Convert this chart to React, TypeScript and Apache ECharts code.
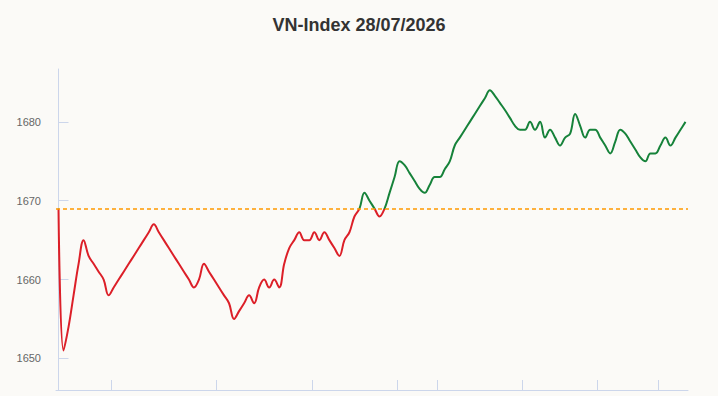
import React, { useEffect, useRef } from "react";
import * as echarts from "echarts";

const titleText = "VN-Index 28/07/2026";
const refLevel = 1669;
const yTicks = [1650, 1660, 1670, 1680];
// sample boundaries (half-hour marks) where the x axis has ticks
const xTickIndices = [11, 32, 51, 68, 76, 93, 108, 120];

const values = [
  1669, 1651, 1654, 1658, 1662, 1665, 1663, 1662, 1661, 1660,
  1658, 1659, 1660, 1661, 1662, 1663, 1664, 1665, 1666, 1667,
  1666, 1665, 1664, 1663, 1662, 1661, 1660, 1659, 1660, 1662,
  1661, 1660, 1659, 1658, 1657, 1655, 1656, 1657, 1658, 1657,
  1659, 1660, 1659, 1660, 1659, 1662, 1664, 1665, 1666, 1665,
  1665, 1666, 1665, 1666, 1665, 1664, 1663, 1665, 1666, 1668,
  1669, 1671, 1670, 1669, 1668, 1669, 1671, 1673, 1675, 1674.5,
  1673.5, 1672.5, 1671.5, 1671, 1672, 1673, 1673, 1674, 1675, 1677,
  1678, 1679, 1680, 1681, 1682, 1683, 1684, 1683.3, 1682.4, 1681.5,
  1680.5, 1679.5, 1679, 1679, 1680, 1679, 1680, 1678, 1679, 1678,
  1677, 1678, 1678.5, 1681, 1679.5, 1678, 1679, 1679, 1678, 1677,
  1676, 1677.5, 1679, 1678.5, 1677.5, 1676.5, 1675.5, 1675, 1676, 1676,
  1677, 1678, 1677, 1678, 1679, 1680,
];

const RED = "#dc1f28";
const GREEN = "#16823a";
const AXIS = "#ccd6eb";

export default function App() {
  const ref = useRef<HTMLDivElement>(null);
  useEffect(() => {
    if (!ref.current) return;
    const chart = echarts.init(ref.current, null, { renderer: "svg" });
    const data = values.map((v, i) => [i, v]);
    const xTickVals = xTickIndices.map((i) => i - 0.5);
    chart.setOption({
      animation: false,
      backgroundColor: "#fbfaf7",
      title: {
        text: titleText,
        left: "center",
        top: 11,
        textStyle: {
          fontSize: 18,
          fontWeight: "bold",
          color: "#333333",
          fontFamily: "Liberation Sans, Arial, sans-serif",
        },
      },
      grid: { left: 56, right: 30, top: 69, bottom: 6, containLabel: false },
      xAxis: {
        type: "value",
        min: -0.5,
        max: values.length - 0.5,
        axisLine: { show: true, lineStyle: { color: AXIS, width: 1 } },
        axisTick: {
          show: true,
          inside: true,
          length: 10,
          lineStyle: { color: AXIS },
          customValues: xTickVals,
        },
        axisLabel: { show: false, customValues: xTickVals },
        splitLine: { show: false },
      },
      yAxis: {
        type: "value",
        min: 1646,
        max: 1686.7,
        axisLine: { show: true, lineStyle: { color: AXIS, width: 1 } },
        axisTick: {
          show: true,
          inside: true,
          length: 10,
          lineStyle: { color: AXIS },
          customValues: yTicks,
        },
        axisLabel: {
          show: true,
          customValues: yTicks,
          formatter: (v: number) => String(v),
          margin: 15,
          color: "#666666",
          fontSize: 11,
          fontFamily: "Liberation Sans, Arial, sans-serif",
        },
        splitLine: { show: false },
      },
      visualMap: {
        type: "piecewise",
        show: false,
        dimension: 1,
        seriesIndex: 0,
        pieces: [
          { gte: 1600, lt: refLevel, color: RED },
          { gte: refLevel, lte: 1720, color: GREEN },
        ],
        outOfRange: { color: GREEN },
      },
      series: [
        {
          type: "line",
          data,
          smooth: 0.4,
          symbol: "none",
          lineStyle: { width: 2 },
          markLine: {
            silent: true,
            symbol: "none",
            label: { show: false },
            lineStyle: { color: "#ff9900", type: [4, 3], width: 1.5 },
            data: [{ yAxis: refLevel }],
          },
        },
      ],
    });
    return () => chart.dispose();
  }, []);
  return (
    <div
      ref={ref}
      style={{ position: "fixed", left: 0, top: 0, width: 718, height: 396 }}
    />
  );
}
